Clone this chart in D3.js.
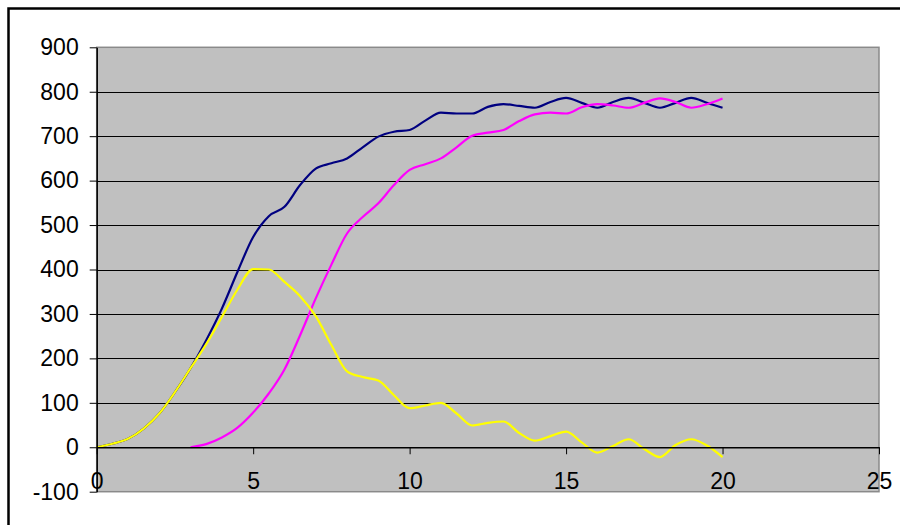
<!DOCTYPE html>
<html>
<head>
<meta charset="utf-8">
<script src="https://cdn.jsdelivr.net/npm/d3@7"></script>
<style>
  html, body { margin: 0; padding: 0; background: #fff; }
  svg { display: block; }
  text { font-family: "Liberation Sans", Arial, sans-serif; }
</style>
</head>
<body>
<svg id="chart" width="900" height="525"></svg>
<script>
// ---- data ----
const times = [0,0.5,1,1.5,2,2.5,3,3.5,4,4.5,5,5.5,6,6.5,7,7.5,8,8.5,9,9.5,10,
               10.5,11,11.5,12,12.5,13,13.5,14,14.5,15,15.5,16,16.5,17,17.5,18,18.5,19,19.5,20];
const navySeries = [0,8,19,42,76,124,178,241,312,395,473,520,541,590,627,639,650,675,699,710,714,
                    735,753,751,751,766,772,768,764,777,786,775,764,777,786,775,764,775,786,775,764];
const magentaSeries = [null,null,null,null,null,null,0,7,22,44,78,121,175,252,335,411,481,518,549,590,624,
                       637,650,675,701,708,714,734,749,753,751,765,772,769,764,775,785,777,764,772,785];
const yellowSeries = [0,8,19,42,76,124,178,232,293,355,401,400,372,340,295,230,171,158,150,117,88,
                      94,100,76,49,55,58,32,15,25,35,11,-12,3,18,-4,-22,5,18,4,-22];
const xTicks = [0,5,10,15,20,25];
const yTicks = [-100,0,100,200,300,400,500,600,700,800,900];
const gridValues = [0,100,200,300,400,500,600,700,800];
const seriesList = [
  {name: "navy", values: navySeries, color: "#000080"},
  {name: "magenta", values: magentaSeries, color: "#FF00FF"},
  {name: "yellow", values: yellowSeries, color: "#FFFF00"}
];

// ---- layout ----
const svg = d3.select("#chart");
const plot = {left: 96.7, right: 879, top: 47.3, bottom: 491.7};
const x = d3.scaleLinear().domain([0, 25]).range([plot.left, plot.right]);
const y = d3.scaleLinear().domain([-100, 900]).range([plot.bottom, plot.top]);

// outer chart border (extends past the window on right/bottom)
svg.append("rect")
  .attr("x", 8.5).attr("y", 8.5)
  .attr("width", 1000).attr("height", 1000)
  .attr("fill", "#fff").attr("stroke", "#000").attr("stroke-width", 2.5);

// plot area
svg.append("rect")
  .attr("x", plot.left).attr("y", plot.top)
  .attr("width", plot.right - plot.left).attr("height", plot.bottom - plot.top)
  .attr("fill", "#C0C0C0").attr("stroke", "#8a8a8a").attr("stroke-width", 1.5);

// gridlines
svg.append("g").selectAll("line").data(gridValues).join("line")
  .attr("x1", plot.left).attr("x2", plot.right)
  .attr("y1", d => Math.round(y(d)) + 0.5).attr("y2", d => Math.round(y(d)) + 0.5)
  .attr("stroke", "#000").attr("stroke-width", 1);

// series lines
const line = d3.line()
  .defined(d => d[1] !== null)
  .curve(d3.curveMonotoneX)
  .x(d => x(d[0]))
  .y(d => y(d[1]));

svg.append("g").selectAll("path").data(seriesList).join("path")
  .attr("d", s => line(times.map((t, i) => [t, s.values[i]])))
  .attr("fill", "none")
  .attr("stroke", s => s.color)
  .attr("stroke-width", 2.2)
  .attr("stroke-linejoin", "round");

const fmt = d => String(d);

// y axis
const yAxis = svg.append("g")
  .attr("transform", `translate(${plot.left},0)`)
  .call(d3.axisLeft(y).tickValues(yTicks).tickSizeInner(7).tickSizeOuter(0).tickPadding(11).tickFormat(fmt));
yAxis.select(".domain").attr("stroke", "#000").attr("stroke-width", 1.5);
yAxis.selectAll(".tick line").attr("stroke", "#000");
yAxis.selectAll("text").attr("font-size", 23).attr("fill", "#000")
  .attr("font-family", "'Liberation Sans', Arial, sans-serif");

// x axis at y = 0
const xAxis = svg.append("g")
  .attr("transform", `translate(0,${y(0)})`)
  .call(d3.axisBottom(x).tickValues(xTicks).tickSizeInner(7).tickSizeOuter(0).tickPadding(18).tickFormat(fmt));
xAxis.select(".domain").attr("stroke", "#000").attr("stroke-width", 1.5);
xAxis.selectAll(".tick line").attr("stroke", "#000");
xAxis.selectAll("text").attr("font-size", 23).attr("fill", "#000")
  .attr("font-family", "'Liberation Sans', Arial, sans-serif");
</script>
</body>
</html>
